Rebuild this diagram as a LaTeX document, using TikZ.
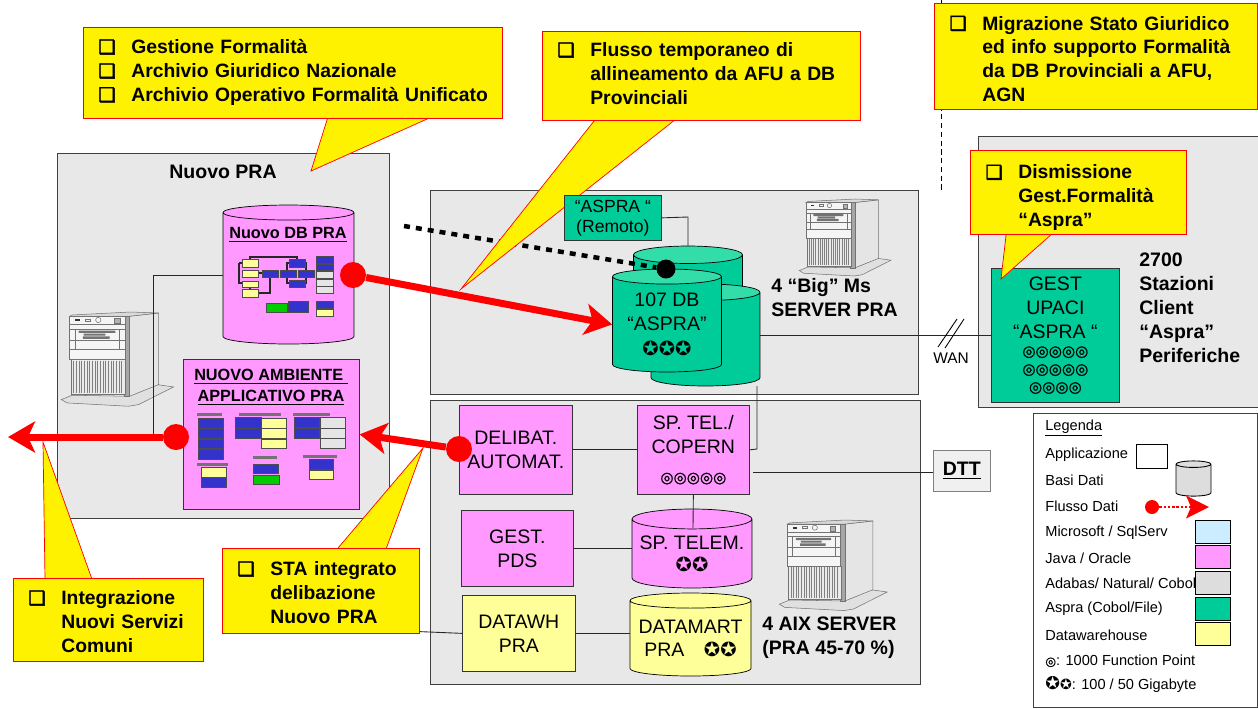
\documentclass[tikz,border=0pt]{standalone}
\usepackage{fontspec}
\setmainfont{Liberation Sans}
\newfontfamily\dingfont{DejaVu Sans}
\newfontfamily\dingheavy[FakeBold=2.5]{DejaVu Sans}
\newfontfamily\dingsemi[FakeBold=1]{DejaVu Sans}
\usepackage{tikz}
\usetikzlibrary{positioning,arrows.meta,shapes.geometric}

\definecolor{panelgray}{HTML}{E8E8E8}
\definecolor{javapink}{HTML}{FF99FF}
\definecolor{aspragreen}{HTML}{00CC99}
\definecolor{asprasoft}{HTML}{33DDAA}
\definecolor{dwyellow}{HTML}{FFFF99}
\definecolor{mslight}{HTML}{CCECFF}
\definecolor{adagray}{HTML}{DDDDDD}
\definecolor{tinyblue}{HTML}{3333CC}

\newcommand{\cbul}{{\dingheavy\fontsize{11}{13}\selectfont ❑}}
\newcommand{\stargl}{{\dingfont ✪}}
\newcommand{\targl}{{\dingsemi\fontsize{8.6}{10}\selectfont ◎}}
\newcommand{\cylpad}[1]{\hspace*{#1}\rule{0pt}{#1}}
\newenvironment{cbtext}{\begin{tabular}{@{}p{0.66cm}@{}l@{}}}{\end{tabular}}

\tikzset{
  bx/.style 2 args={minimum width=#1*0.02cm,minimum height=#2*0.02cm},
  panel/.style={draw=black!75,fill=panelgray,anchor=north west,inner sep=0pt},
  appbox/.style={draw=black!80,anchor=north west,inner sep=0pt,align=center,
    font=\fontsize{11.1}{13.6}\selectfont},
  dbcyl/.style={cylinder,shape border rotate=90,draw=black,cylinder uses custom fill,
    anchor=shape center,inner sep=0pt,align=center,font=\fontsize{11.1}{13.6}\selectfont},
  calloutbox/.style 2 args={draw=red,fill=yellow,anchor=north west,inner xsep=0.3cm,inner ysep=0pt,
    minimum height=#2*0.02cm,text width=#1*0.02cm-0.6cm,align=left,
    font=\bfseries\fontsize{11}{13.6}\selectfont},
  calloutwedge/.style={draw=red,fill=yellow},
  boldlbl/.style={font=\bfseries\fontsize{11.1}{13.6}\selectfont,align=left,inner sep=0pt},
  legtxt/.style={anchor=west,inner sep=0pt,font=\fontsize{8.3}{10}\selectfont},
  swatch/.style={draw=black,minimum width=0.7cm,minimum height=0.46cm,inner sep=0pt},
  reddot/.style={circle,fill=red,inner sep=0pt,minimum size=0.52cm},
  redflow/.style={draw=red,line width=0.14cm,-{Stealth[length=0.54cm,width=0.62cm,inset=0.14cm]}},
  link/.style={draw=black!85,line width=0.5pt},
  tinyb/.style={draw=black!70,fill=tinyblue,line width=0.4pt},
  tinyy/.style={draw=black!70,fill=dwyellow,line width=0.4pt},
  tinyg/.style={draw=black!70,fill=black!10,line width=0.4pt},
  tinyv/.style={draw=black!70,fill=green!80!black,line width=0.4pt},
  tinyh/.style={fill=black!55},
  server/.pic={
    \begin{scope}[shift={(-182,-37)},draw=black!55,line width=0.3pt]
      \draw[fill=black!12] (183,300) -- (215,287) -- (385,290) -- (470,255) -- (520,262)
        -- (415,315) -- (385,320) -- (200,310) -- cycle;
      \draw[fill=black!10] (385,50) -- (475,40) -- (475,255) -- (388,290) -- cycle;
      \draw[fill=black!15] (208,50) -- (215,46) -- (390,37) -- (475,40) -- (385,50) -- cycle;
      \draw[fill=black!35] (372,50) rectangle (388,290);
      \draw[fill=black!4] (208,50) rectangle (374,180);
      \draw[fill=black!8] (212,180) rectangle (375,285);
      \foreach \sx in {220,228,...,364}
        \draw[black!50,line width=0.5pt] (\sx,184) -- (\sx,280);
      \draw (208,74) -- (374,74) (208,88) -- (374,88) (208,150) -- (374,150);
      \draw (224,88) -- (224,150) -- (358,150) -- (358,88);
      \fill[black!55] (235,93) rectangle (345,100) (250,102) rectangle (315,108) (248,110) rectangle (328,118);
      \draw (208,122) -- (374,122);
      \fill[black!80] (225,58) rectangle (238,64);
      \draw (256,58) rectangle (270,64);
      \draw (294,61) circle (8);
      \draw[fill=black!30] (343,57) rectangle (359,71);
    \end{scope}
  }
}

\begin{document}
\begin{tikzpicture}[x=0.02cm,y=-0.02cm]
  \useasboundingbox (0,0) rectangle (1258,708);
  % Grey areas first
  \node[panel,bx={332}{365}] (panelpra) at (57,153) {};
  \node[panel,bx={488}{204}] (panelms) at (430,190) {};
  \node[panel,bx={490}{284}] (panelaix) at (430,400) {};
  \node[panel,bx={280}{271}] (panelcli) at (978,136) {};
  \draw[densely dashed,line width=0.5pt] (941,0) -- (941,190);
  \pic[scale=0.333] (srvpra) at (61,312) {server};
  \pic[scale=0.272] (srvms) at (799,199) {server};
  \pic[scale=0.32] (srvaix) at (779,520) {server};
  % Nuovo PRA
  \node[boldlbl] (lblpra) at (223,172) {Nuovo PRA};
  \node[dbcyl,aspect=0.3,minimum width=2.62cm,minimum height=2.78cm,
    cylinder body fill=javapink,cylinder end fill=javapink] (dbnew) at (288.5,274.5) {\cylpad{1cm}};
  \node[font=\bfseries\fontsize{9.25}{11}\selectfont,inner sep=0pt] (lbldbnew) at (288,235) {\underline{Nuovo DB PRA}};
  \node[appbox,fill=javapink,bx={176}{150}] (appnew) at (183,359) {};
  \node[font=\bfseries\fontsize{9.25}{12}\selectfont,inner sep=0pt,align=center] (lblapp) at (271,387)
    {\underline{NUOVO AMBIENTE\ }\\\underline{APPLICATIVO PRA}};
  \node[reddot] (dotdb) at (353,275) {};
  \draw[link] (dbnew.west |- dotdb) -- (153,275) -- (153,437);
  % Little schemes inside the two boxes
  \draw[link,line width=0.6pt] (239,263) -- (242,263) (239,263) -- (239,283) -- (242,283)
    (250,259) -- (250,257) -- (297,257) -- (297,259) (258,273) -- (262,273) (250,287) -- (250,289)
    (258,293) -- (270,293) -- (270,277) (289,263) -- (287,263) -- (287,283) -- (289,283)
    (305,263) -- (306,263) -- (306,283) -- (305,283);
  \foreach \xa/\ya/\xb/\yb in {242/259/258/267,242/270/258/277,242/281/258/287,242/289/258/297,316/309/333/316,
    261/418/286/428,261/428/286/438,261/439/286/448,201/467/226/477,309/470/333/479}
    \draw[tinyy] (\xa,\ya) rectangle (\xb,\yb);
  \foreach \xa/\ya/\xb/\yb in {262/270/278/277,289/259/305/267,280/270/296/277,298/270/314/277,289/280/305/287,
    316/256/333/263,316/264/333/270,316/301/333/308,288/301/308/312,
    198/418/223/428,198/428/223/438,198/439/223/448,198/449/223/459,235/417/261/428,235/428/261/438,
    294/417/319/427,294/428/319/438,201/477/226/487,253/464/278/473,309/459/333/469}
    \draw[tinyb] (\xa,\ya) rectangle (\xb,\yb);
  \foreach \xa/\ya/\xb/\yb in {316/271/333/278,316/279/333/286,316/286/333/293,
    320/417/345/428,320/428/345/438,320/438/345/448}
    \draw[tinyg] (\xa,\ya) rectangle (\xb,\yb);
  \foreach \xa/\ya/\xb/\yb in {266/303/287/312,253/475/279/484}
    \draw[tinyv] (\xa,\ya) rectangle (\xb,\yb);
  \foreach \xa/\ya/\xb/\yb in {197/413/222/416,239/413/281/416,293/413/330/416,197/463/228/466,253/456/277/459,303/455/337/458}
    \fill[tinyh] (\xa,\ya) rectangle (\xb,\yb);
  % Server Ms
  \node[dbcyl,aspect=0.35,minimum width=2.18cm,minimum height=1.8cm,
    cylinder body fill=aspragreen,cylinder end fill=asprasoft] (dbback) at (688,291) {\cylpad{1cm}};
  \node[dbcyl,aspect=0.33,minimum width=2.18cm,minimum height=2.04cm,
    cylinder body fill=aspragreen,cylinder end fill=asprasoft] (dbright) at (705.5,335) {\cylpad{1cm}};
  \node[dbcyl,aspect=0.19,minimum width=2.18cm,minimum height=2.06cm,
    cylinder body fill=aspragreen,cylinder end fill=asprasoft] (db107) at (667,320.5)
    {107 DB\\``ASPRA''\\[1pt]\stargl\stargl\stargl};
  \node[boldlbl,anchor=north west] (lblms) at (771,278) {4 ``Big'' Ms\\SERVER PRA};
  % Aix panel
  \node[appbox,fill=javapink,bx={113}{89}] (delibat) at (459,405) {DELIBAT.\\AUTOMAT.};
  \node[appbox,fill=javapink,bx={112}{89}] (spcop) at (637,405) {SP. TEL./\\COPERN\\[3pt]\targl\targl\targl\targl\targl};
  \node[appbox,fill=javapink,bx={112}{76}] (gestpds) at (461,510) {GEST.\\PDS};
  \node[dbcyl,aspect=0.19,minimum width=2.4cm,minimum height=1.58cm,
    cylinder body fill=javapink,cylinder end fill=javapink] (telem) at (692,548.5) {SP. TELEM.\\[-1pt]\stargl\stargl};
  \node[appbox,fill=dwyellow,bx={113}{76}] (datawh) at (462,595) {DATAWH\\PRA};
  \node[dbcyl,aspect=0.145,minimum width=2.42cm,minimum height=1.66cm,
    cylinder body fill=dwyellow,cylinder end fill=dwyellow] (datamart) at (690.5,634.5) {DATAMART\\PRA\quad\stargl\stargl};
  \node[boldlbl,anchor=north west] (lblaix) at (762,617) {4 AIX SERVER\\(PRA 45-70 \%)};
  \coordinate (linkdw) at (405,631);
  \coordinate (linkdtt) at (753,472);
  \node[draw=black!50,fill=black!6,anchor=north west,inner sep=0pt,bx={57}{41},
    font=\bfseries\fontsize{11.1}{13}\selectfont] (dtt) at (933,450) {\underline{DTT}};
  \draw[link] (delibat.east) -- (spcop.west);
  \draw[link] (gestpds.east) -- (telem.west |- gestpds.east);
  \draw[link] (spcop.south) -- (693,528);
  \draw[link] (datawh.east) -- (datamart.west |- datawh.east);
  \draw[link] (linkdw) -- (datawh.west);
  \draw[link] (linkdtt) -- (linkdtt -| dtt.west);
  \draw[link] (spcop.east) -- (757,449) -- (757,386);
  % Clients
  \node[appbox,fill=aspragreen,bx={128}{134}] (gestupaci) at (991,268)
    {GEST\\UPACI\\``ASPRA ``\\[-3.4pt]\targl\targl\targl\targl\targl\\[-3.4pt]\targl\targl\targl\targl\targl\\[-3.4pt]\targl\targl\targl\targl};
  \draw[link] (dbright.east |- 0,335) -- (gestupaci.west |- 0,335);
  \draw[line width=0.5pt] (938,347) -- (957,319) (945,348) -- (964,319);
  \node[legtxt,anchor=center,font=\fontsize{8.8}{10}\selectfont] (lblwan) at (951,358) {WAN};
  \node[boldlbl,anchor=north west] (lblcli) at (1139,253)
    {2700\\Stazioni\\Client\\``Aspra''\\Periferiche};
  % Legend
  \node[draw=black!75,fill=white,anchor=north west,inner sep=0pt,bx={224}{294}] (legend) at (1033,413) {};
  \node[legtxt] (legtitle) at (1045,428) {\underline{Legenda}};
  \node[legtxt] (legapp) at (1045,455) {Applicazione};
  \node[legtxt] (legdb) at (1045,480) {Basi Dati};
  \node[legtxt] (legflow) at (1045,506) {Flusso Dati};
  \node[legtxt] (legms) at (1045,533) {Microsoft / SqlServ};
  \node[legtxt] (legjava) at (1045,558) {Java / Oracle};
  \node[legtxt] (legada) at (1045,583) {Adabas/ Natural/ Cobol};
  \node[legtxt] (legaspra) at (1045,609) {Aspra (Cobol/File)};
  \node[legtxt] (legdw) at (1045,635) {Datawarehouse};
  \node[legtxt] (legfp) at (1045,661) {{\dingsemi\fontsize{7}{9}\selectfont ◎}: 1000 Function Point};
  \node[legtxt] (leggb) at (1045,684) {{\dingfont\fontsize{10}{10}\selectfont ✪\fontsize{8}{9}\selectfont ✪}: 100 / 50 Gigabyte};
  \node[swatch,minimum width=0.62cm,minimum height=0.48cm] (swapp) at (1151.5,456) {};
  \node[dbcyl,aspect=0.26,minimum width=0.7cm,minimum height=0.62cm,line width=0.5pt,
    cylinder body fill=adagray,cylinder end fill=adagray] (swdb) at (1193.5,478.5) {\cylpad{0.5cm}};
  \node[swatch,fill=mslight] (swms) at (1212.5,531.5) {};
  \node[swatch,fill=javapink,below=0.04cm of swms] (swjava) {};
  \node[swatch,fill=adagray,below=0.04cm of swjava] (swada) {};
  \node[swatch,fill=aspragreen,below=0.04cm of swada] (swaspra) {};
  \node[swatch,fill=dwyellow,below=0.04cm of swaspra] (swdw) {};
  \node[circle,fill=red,inner sep=0pt,minimum size=0.28cm] (dotleg) at (1152,507) {};
  \coordinate (tipleg) at (1209,507);
  \draw[draw=red,line width=0.05cm,densely dotted,-{Stealth[length=0.46cm,width=0.46cm,inset=0.1cm,line width=0pt,fill=red]}] (dotleg) -- (tipleg);
  % Red flows
  \node[reddot] (dotapp) at (176,437) {};
  \node[reddot] (dotdel) at (459,449) {};
  \coordinate (tipout) at (8,437);
  \draw[redflow] (dotdb) -- (db107.west);
  \draw[redflow] (dotapp) -- (tipout);
  \draw[redflow] (dotdel) -- (appnew.east);
  % Dotted link from the old position
  \node[circle,fill=black,inner sep=0pt,minimum size=0.38cm] (dotasp) at (666,269) {};
  \coordinate (startasp) at (404,226);
  \draw[line width=0.09cm,dash pattern=on 0.12cm off 0.12cm] (startasp) -- (dotasp);
  % Yellow callouts
  \draw[calloutwedge] (328,116.8) -- (311,171) -- (432,116.8);
  \node[calloutbox={419}{91}] (cbgest) at (83,27) {\begin{cbtext}\cbul & Gestione Formalità\\ \cbul & Archivio Giuridico Nazionale\\ \cbul & Archivio Operativo Formalità Unificato\end{cbtext}};
  \draw[calloutwedge] (595,119.8) -- (461,289) -- (675,119.8);
  \node[calloutbox={318}{89}] (cbflusso) at (542,31) {\begin{cbtext}\cbul & Flusso temporaneo di\\ & allineamento da AFU a DB\\ & Provinciali\end{cbtext}};
  \node[appbox,fill=aspragreen,bx={97}{45},font=\fontsize{10}{11.4}\selectfont] (remoto) at (564,195) {``ASPRA ``\\(Remoto)};
  \draw[link] (remoto.east) -- (688,217) -- (688,246);
  \node[calloutbox={323}{104}] (cbmigr) at (934,3) {\begin{cbtext}\rule{0pt}{15.2pt}\cbul & Migrazione Stato Giuridico\\ & ed info supporto Formalità\\ & da DB Provinciali a AFU,\\ & AGN\end{cbtext}};
  \draw[calloutwedge] (1007,226.8) -- (1001,279) -- (1060,226.8);
  \node[calloutbox={216}{78}] (cbdism) at (970,150) {\begin{cbtext}\rule{0pt}{16.3pt}\cbul & Dismissione\\ & Gest.Formalità\\ & ``Aspra''\end{cbtext}};
  \draw[calloutwedge] (45,579.2) -- (43,442) -- (92,579.2);
  \node[calloutbox={190}{83}] (cbinteg) at (13,578) {\begin{cbtext}\rule{0pt}{14.1pt}\cbul & Integrazione\\ & Nuovi Servizi\\ & Comuni\end{cbtext}};
  \draw[calloutwedge] (337,549.2) -- (423,448) -- (386,549.2);
  \node[calloutbox={197}{85}] (cbsta) at (222,548) {\begin{cbtext}\rule{0pt}{14pt}\cbul & STA integrato\\ & delibazione\\ & Nuovo PRA\end{cbtext}};
\end{tikzpicture}
\end{document}
